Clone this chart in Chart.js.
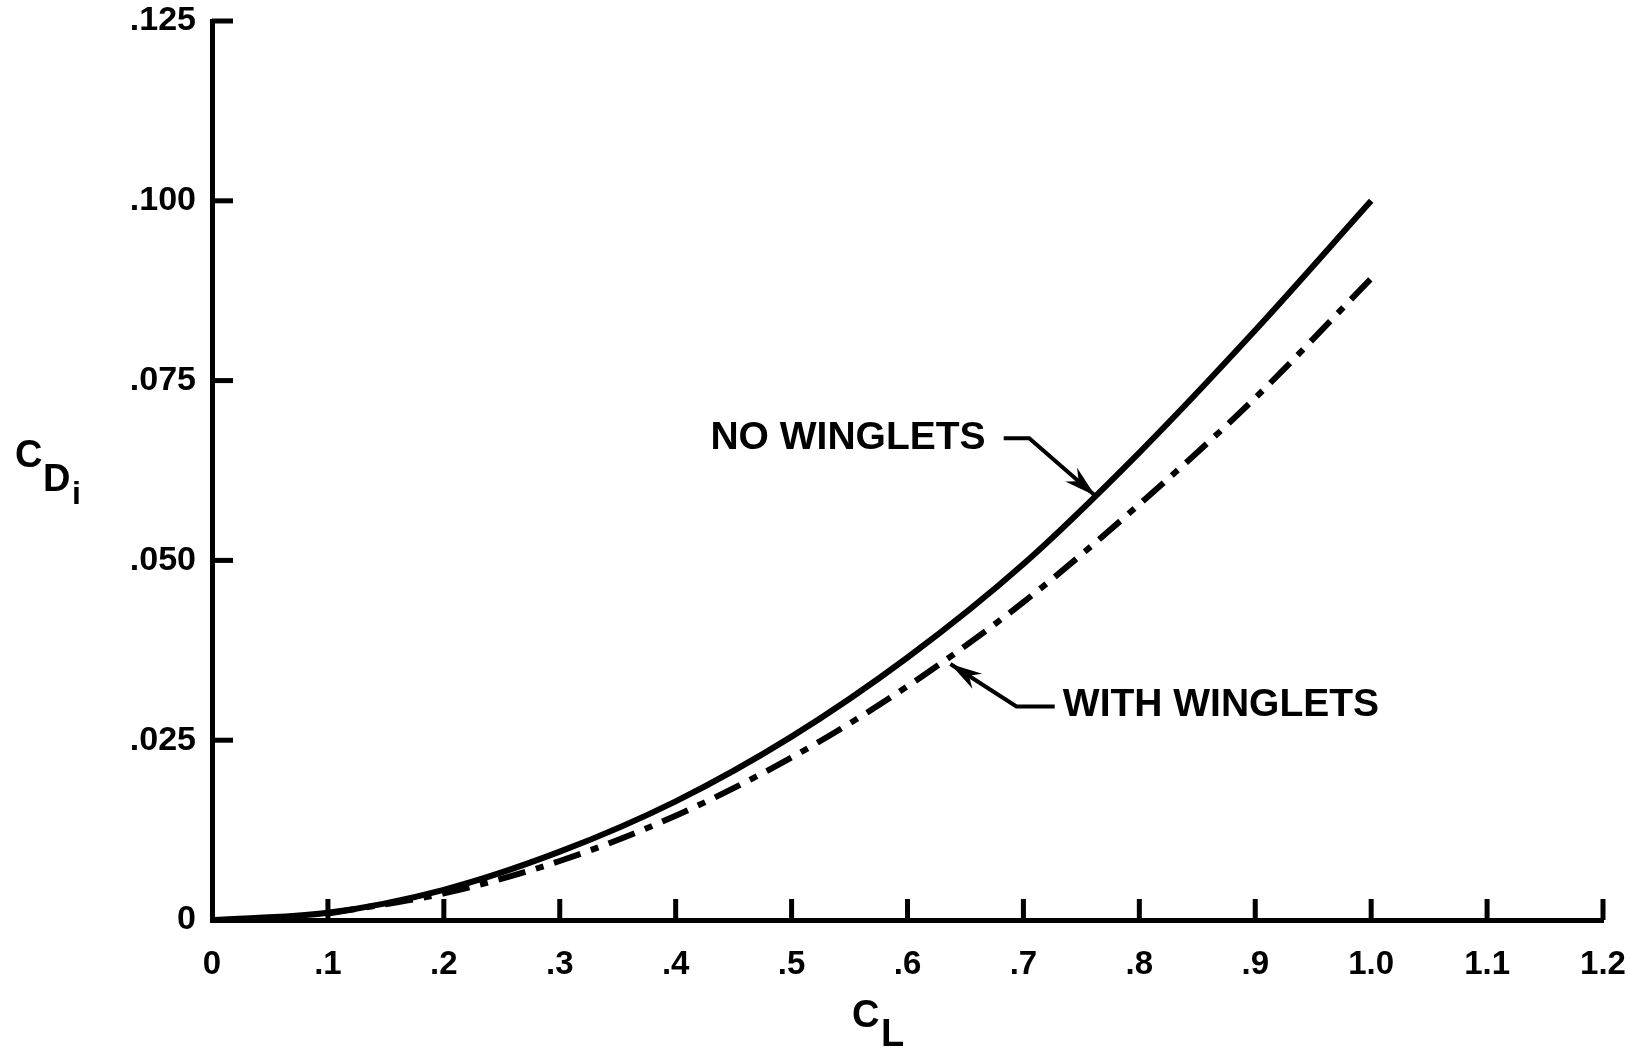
<!DOCTYPE html>
<html lang="en">
<head>
    <meta charset="UTF-8">
    <title>Induced drag vs lift coefficient</title>
    <script src="https://cdn.jsdelivr.net/npm/chart.js@4.4.1/dist/chart.umd.min.js"></script>
    <style>
        html, body { margin: 0; padding: 0; background: #fff; }
        #container { width: 1635px; height: 1051px; }
    </style>
</head>
<body>
<div id="container">
    <canvas id="canvas"></canvas>
</div>
<script>
    // values
    var CL = [0, 0.1, 0.2, 0.3, 0.4, 0.5, 0.6, 0.7, 0.8, 0.9, 1.0];
    var NO_WINGLETS = [0, 0.001, 0.0042, 0.0095, 0.0165, 0.0255, 0.0365, 0.0495, 0.065, 0.082, 0.100];
    var WITH_WINGLETS = [null, 0.0009, 0.0037, 0.0082, 0.0145, 0.0226, 0.0325, 0.0442, 0.0578, 0.0726, 0.0892];
    var X_TICKS = ['0', '.1', '.2', '.3', '.4', '.5', '.6', '.7', '.8', '.9', '1.0', '1.1', '1.2'];
    var Y_TICKS = ['0', '.025', '.050', '.075', '.100', '.125'];

    var FONT = "'Liberation Sans', Arial, sans-serif";

    function toPoints(ys) {
        var pts = [];
        for (var i = 0; i < CL.length; i++) {
            if (ys[i] !== null) pts.push({x: CL[i], y: ys[i]});
        }
        return pts;
    }

    // label + arrow, in data units
    var notes = [
        {text: 'NO WINGLETS', at: [0.430, 0.067],
         path: [[0.683, 0.067], [0.705, 0.067], [0.762, 0.059]]},
        {text: 'WITH WINGLETS', at: [0.734, 0.0299],
         path: [[0.727, 0.0297], [0.694, 0.0297], [0.637, 0.0356]]}
    ];

    var extras = {
        id: 'extras',
        afterDraw: function(chart) {
            var ctx = chart.ctx;
            var xs = chart.scales.x, ys = chart.scales.y;
            var area = chart.chartArea;
            ctx.save();
            ctx.strokeStyle = '#000';
            ctx.fillStyle = '#000';
            ctx.lineWidth = 5;
            ctx.lineCap = 'butt';

            // inward tick marks
            xs.ticks.forEach(function(t) {
                if (t.value === 0) return;
                var px = xs.getPixelForValue(t.value);
                ctx.beginPath();
                ctx.moveTo(px, area.bottom);
                ctx.lineTo(px, area.bottom - 21);
                ctx.stroke();
            });
            ys.ticks.forEach(function(t) {
                if (t.value === 0) return;
                var py = ys.getPixelForValue(t.value);
                ctx.beginPath();
                ctx.moveTo(area.left, py);
                ctx.lineTo(area.left + 21, py);
                ctx.stroke();
            });

            // annotations
            ctx.font = 'bold 39px ' + FONT;
            ctx.textBaseline = 'middle';
            ctx.textAlign = 'left';
            notes.forEach(function(n) {
                ctx.fillText(n.text, xs.getPixelForValue(n.at[0]), ys.getPixelForValue(n.at[1]));
                var p = n.path.map(function(q) {
                    return [xs.getPixelForValue(q[0]), ys.getPixelForValue(q[1])];
                });
                ctx.lineWidth = 4;
                ctx.beginPath();
                ctx.moveTo(p[0][0], p[0][1]);
                for (var i = 1; i < p.length; i++) ctx.lineTo(p[i][0], p[i][1]);
                ctx.stroke();
                // arrow head
                var a = p[p.length - 2], b = p[p.length - 1];
                var c = Math.cos(Math.atan2(b[1] - a[1], b[0] - a[0]));
                var s = Math.sin(Math.atan2(b[1] - a[1], b[0] - a[0]));
                ctx.beginPath();
                ctx.moveTo(b[0], b[1]);
                ctx.lineTo(b[0] - 32 * c + 9 * s, b[1] - 32 * s - 9 * c);
                ctx.lineTo(b[0] - 22 * c, b[1] - 22 * s);
                ctx.lineTo(b[0] - 32 * c - 9 * s, b[1] - 32 * s + 9 * c);
                ctx.closePath();
                ctx.fill();
            });

            // axis titles with subscripts
            ctx.textBaseline = 'alphabetic';
            ctx.font = 'bold 38px ' + FONT;
            ctx.fillText('C', 15, 467);
            ctx.fillText('D', 43, 491);
            ctx.font = 'bold 32px ' + FONT;
            ctx.fillText('i', 72, 504);

            ctx.font = 'bold 38px ' + FONT;
            ctx.fillText('C', 852, 1027);
            ctx.fillText('L', 881, 1046);
            ctx.restore();
        }
    };

    window.onload = function() {
        var ctx = document.getElementById('canvas').getContext('2d');
        window.myLine = new Chart(ctx, {
            type: 'line',
            data: {
                datasets: [{
                    label: 'NO WINGLETS',
                    data: toPoints(NO_WINGLETS),
                    borderColor: '#000',
                    borderWidth: 6,
                    pointRadius: 0,
                    cubicInterpolationMode: 'monotone',
                    fill: false
                }, {
                    label: 'WITH WINGLETS',
                    data: toPoints(WITH_WINGLETS),
                    borderColor: '#000',
                    borderWidth: 6,
                    borderDash: [28, 11, 8, 11],
                    borderCapStyle: 'butt',
                    pointRadius: 0,
                    cubicInterpolationMode: 'monotone',
                    fill: false
                }]
            },
            options: {
                responsive: true,
                maintainAspectRatio: false,
                animation: false,
                layout: {
                    padding: {left: 92, right: 32, top: 21, bottom: 51}
                },
                plugins: {
                    legend: {display: false},
                    tooltip: {enabled: false},
                    title: {display: false}
                },
                scales: {
                    x: {
                        type: 'linear',
                        min: 0,
                        max: 1.2,
                        afterFit: function(scale) {
                            scale.height = 80;
                            scale.paddingLeft = 0;
                            scale.paddingRight = 0;
                        },
                        grid: {drawOnChartArea: false, drawTicks: false},
                        border: {display: true, color: '#000', width: 5},
                        ticks: {
                            stepSize: 0.1,
                            padding: 25,
                            color: '#000',
                            maxRotation: 0,
                            font: {family: FONT, size: 33, weight: 'bold'},
                            callback: function(v) {
                                return X_TICKS[Math.round(v * 10)];
                            }
                        }
                    },
                    y: {
                        type: 'linear',
                        min: 0,
                        max: 0.125,
                        afterFit: function(scale) {
                            scale.width = 120;
                            scale.paddingTop = 0;
                            scale.paddingBottom = 0;
                        },
                        grid: {drawOnChartArea: false, drawTicks: false},
                        border: {display: true, color: '#000', width: 5},
                        ticks: {
                            stepSize: 0.025,
                            padding: 16,
                            color: '#000',
                            font: {family: FONT, size: 34, weight: 'bold'},
                            callback: function(v) {
                                return Y_TICKS[Math.round(v / 0.025)];
                            }
                        }
                    }
                }
            },
            plugins: [extras]
        });
    };
</script>
</body>
</html>
